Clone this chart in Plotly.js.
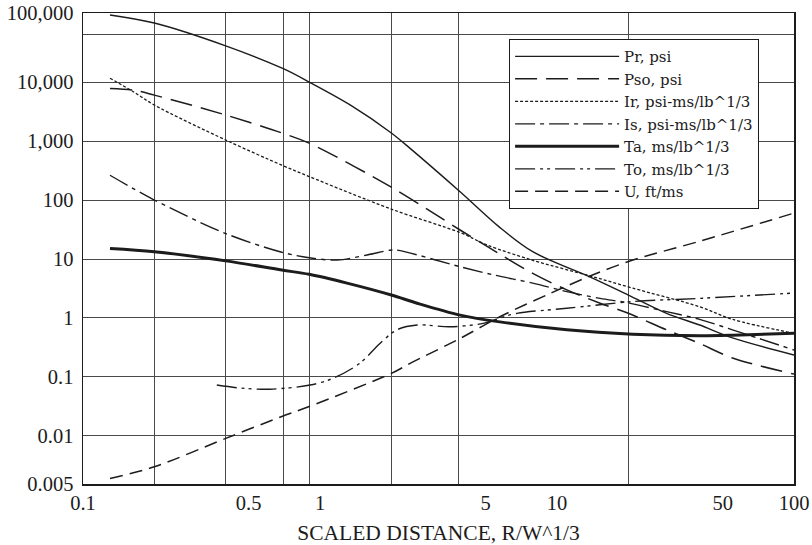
<!DOCTYPE html>
<html>
<head>
<meta charset="utf-8">
<script src="https://cdn.plot.ly/plotly-3.0.1.min.js"></script>
<style>html,body{margin:0;padding:0;background:#fff;}#chart{width:812px;height:545px;}</style>
</head>
<body>
<div id="chart"></div>
<script>
// ---- data (x = scaled distance R/W^1/3) ----
const seriesNames = ["Pr, psi", "Pso, psi", "Ir, psi-ms/lb^1/3", "Is, psi-ms/lb^1/3", "Ta, ms/lb^1/3", "To, ms/lb^1/3", "U, ft/ms"];

const xPr  = [0.13, 0.2, 0.4, 0.7, 0.9, 1.34, 2, 2.4, 3.9, 5.7, 7.9, 14.2, 20, 29, 40, 55, 100];
const yPr  = [137000, 100000, 41000, 16800, 10000, 4100, 1370, 750, 138, 35, 13.3, 4.7, 2.45, 1.2, 0.76, 0.46, 0.236];

const xPso = [0.13, 0.163, 0.2, 0.4, 0.69, 0.9, 2, 3.9, 5.07, 7.9, 11, 15.2, 20, 29, 40, 55, 100];
const yPso = [7800, 7300, 6000, 2760, 1370, 920, 165, 31, 16.3, 5.7, 3.0, 1.78, 1.2, 0.63, 0.37, 0.21, 0.112];

const xIr  = [0.13, 0.163, 0.2, 0.4, 0.69, 0.9, 2, 3.9, 5.07, 7.9, 14.2, 20.9, 40, 55, 100];
const yIr  = [11600, 6850, 4070, 1040, 390, 250, 70, 28, 17.3, 9.5, 5.0, 3.2, 1.55, 0.95, 0.55];

const xIs  = [0.13, 0.2, 0.4, 0.69, 0.9, 1.18, 1.58, 2.0, 2.15, 3.9, 5.37, 7.9, 11, 15.2, 20, 29, 40, 55, 100];
const yIs  = [263, 100, 27, 13.0, 10.5, 9.6, 11.7, 14.2, 14.0, 7.4, 5.4, 3.9, 2.8, 2.15, 1.8, 1.28, 0.95, 0.63, 0.287];

const xTa  = [0.13, 0.2, 0.4, 0.69, 0.9, 1.3, 2, 2.57, 3.9, 5.74, 11, 20.9, 40, 55, 100];
const yTa  = [15.1, 13.3, 9.3, 6.5, 5.5, 3.9, 2.45, 1.78, 1.12, 0.86, 0.63, 0.53, 0.50, 0.51, 0.55];

const xTo  = [0.367, 0.459, 0.615, 0.908, 1.135, 1.47, 1.79, 2.11, 2.57, 3.54, 4.88, 5.74, 6.78, 11, 20.9, 40, 100];
const yTo  = [0.073, 0.065, 0.062, 0.073, 0.095, 0.17, 0.37, 0.63, 0.76, 0.71, 0.81, 1.0, 1.2, 1.46, 1.9, 2.15, 2.65];

const xU   = [0.13, 0.2, 0.4, 0.69, 0.9, 2, 2.4, 3.9, 5.74, 9.34, 14.2, 20.9, 40, 100];
const yU   = [0.0019, 0.003, 0.0091, 0.0214, 0.0316, 0.115, 0.17, 0.45, 1.05, 2.6, 5.4, 9.6, 20, 60];

// axis extent of the drawn frame (log10), matching the reference's decade spacing
const xRange = [-1, 2];
const yRange = [-2.814, 5.17];

// tick labels; the reference prints "0.005" and "100,000" at the bottom and top of the frame
const xTickVals = [0.1, 0.5, 1, 5, 10, 50, 100];
const xTickText = ["0.1", "0.5", "1", "5", "10", "50", "100"];
const yTickText = ["0.005", "0.01", "0.1", "1", "10", "100", "1,000", "10,000", "100,000"];
const yInnerTickVals = [0.01, 0.1, 1, 10, 100, 1000, 10000];
const yTickVals = [Math.pow(10, yRange[0])].concat(yInnerTickVals, [Math.pow(10, yRange[1])]);

// grid line positions as drawn in the reference
const xGridVals = [0.2, 0.4, 0.7, 0.9, 2, 3.85, 20];
const yGridVals = [65000, 10000, 1000, 100, 10, 1, 0.1, 0.01];

const xTitle = "SCALED DISTANCE, R/W^1/3";

// ---- styling ----
const ink = "#1c1c1c";
const serif = "Liberation Serif, Times New Roman, serif";
const styles = [
  {dash: "solid", width: 1.4},
  {dash: "22px,9px", width: 1.5},
  {dash: "3px,2px", width: 1.3},
  {dash: "20px,5px,4px,5px", width: 1.4},
  {dash: "solid", width: 3},
  {dash: "20px,5px,3px,4px,3px,5px", width: 1.4},
  {dash: "13px,7px", width: 1.5}
];
const xs = [xPr, xPso, xIr, xIs, xTa, xTo, xU];
const ys = [yPr, yPso, yIr, yIs, yTa, yTo, yU];

const traces = seriesNames.map((n, i) => ({
  type: "scatter", mode: "lines", name: n,
  x: xs[i], y: ys[i],
  line: {color: ink, width: styles[i].width, dash: styles[i].dash, shape: "spline", smoothing: 0.9},
  hoverinfo: "skip"
}));
// empty trace that activates the grid-only overlay axes
traces.unshift({type: "scatter", mode: "lines", x: [], y: [], xaxis: "x2", yaxis: "y2", showlegend: false, hoverinfo: "skip"});

const layout = {
  width: 812, height: 545,
  margin: {l: 83, r: 18, t: 13, b: 61, pad: 0},
  paper_bgcolor: "#fff", plot_bgcolor: "#fff",
  font: {family: serif, color: ink, size: 20},
  showlegend: true,
  legend: {
    x: 0.599, y: 0.945, xanchor: "left", yanchor: "top",
    bgcolor: "#fff", bordercolor: ink, borderwidth: 1.2,
    font: {family: "DejaVu Serif, serif", size: 15, color: ink},
    itemwidth: 104, tracegroupgap: 0
  },
  xaxis: {
    type: "log", range: xRange, showgrid: false, zeroline: false,
    showline: true, mirror: true, linecolor: ink, linewidth: 1.5,
    tickmode: "array", tickvals: xTickVals, ticktext: xTickText,
    ticks: "", tickfont: {family: serif, size: 20.5, color: ink},
    title: {text: xTitle, font: {family: serif, size: 21.5, color: ink}, standoff: 18}
  },
  yaxis: {
    type: "log", range: yRange, showgrid: false, zeroline: false,
    showline: true, mirror: true, linecolor: ink, linewidth: 1.5,
    tickmode: "array", tickvals: yTickVals, ticktext: yTickText,
    ticks: "", ticklabelstandoff: 4, tickfont: {family: serif, size: 20.5, color: ink}
  },
  xaxis2: {
    type: "log", range: xRange, overlaying: "x", side: "bottom",
    tickmode: "array", tickvals: xGridVals, showticklabels: false, ticks: "",
    showgrid: true, gridcolor: "#4a4a4a", gridwidth: 1, zeroline: false, showline: false
  },
  yaxis2: {
    type: "log", range: yRange, overlaying: "y", side: "left",
    tickmode: "array", tickvals: yGridVals, showticklabels: false, ticks: "",
    showgrid: true, gridcolor: "#4a4a4a", gridwidth: 1, zeroline: false, showline: false
  }
};

Plotly.newPlot("chart", traces, layout, {staticPlot: true, displayModeBar: false});
</script>
</body>
</html>
